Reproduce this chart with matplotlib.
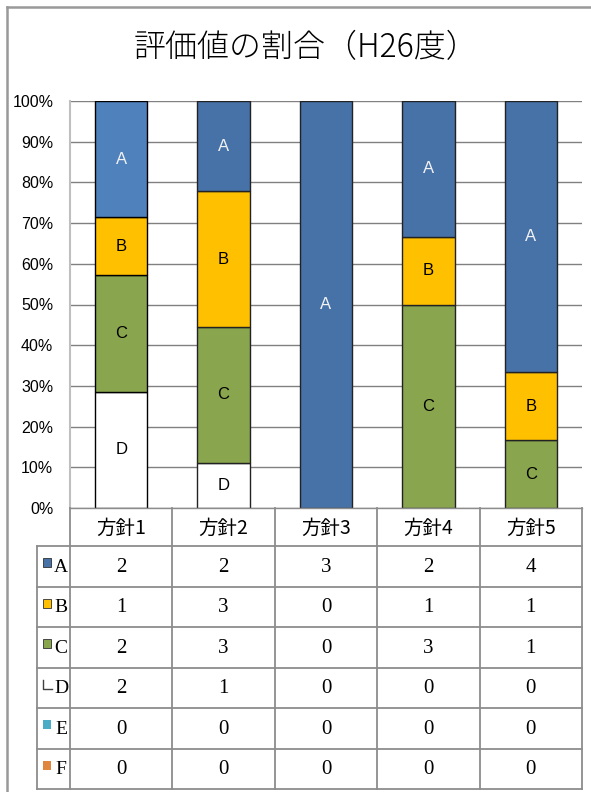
import matplotlib
matplotlib.use("Agg")
import matplotlib.pyplot as plt
from matplotlib.patches import Rectangle
from matplotlib.lines import Line2D
import numpy as np

plt.rcParams['font.family'] = ['Noto Sans CJK JP', 'DejaVu Sans']

# data
policies = ["方針1", "方針2", "方針3", "方針4", "方針5"]
grades = ["A", "B", "C", "D", "E", "F"]
count_a = [2, 2, 3, 2, 4]
count_b = [1, 3, 0, 1, 1]
count_c = [2, 3, 0, 3, 1]
count_d = [2, 1, 0, 0, 0]
count_e = [0, 0, 0, 0, 0]
count_f = [0, 0, 0, 0, 0]
yticks = [0, 10, 20, 30, 40, 50, 60, 70, 80, 90, 100]

colors = {"A": "#4672A8", "B": "#FFC000", "C": "#89A54E", "D": "#FFFFFF",
          "E": "#4BACC6", "F": "#E0873F"}
label_colors = {"A": "#F2F2F2", "B": "black", "C": "black", "D": "black"}

W, H = 591, 792
fig = plt.figure(figsize=(W / 100, H / 100), dpi=100)


def fx(px):
    return px / W


def fy(py):
    return 1 - py / H


# outer frame
fig.add_artist(Line2D([fx(7), fx(7)], [fy(7), fy(791)], color="#999999", lw=1.8))
fig.add_artist(Line2D([fx(7), fx(591)], [fy(7), fy(7)], color="#999999", lw=1.8))

fig.text(fx(306), fy(48), "評価値の割合（H26度）", ha="center", va="center",
         fontsize=23, fontweight="light")

# chart area
left, right, top, bottom = 70, 582, 101, 508
ax = fig.add_axes([fx(left), fy(bottom), fx(right) - fx(left), fy(top) - fy(bottom)])
counts = {"A": count_a, "B": count_b, "C": count_c, "D": count_d, "E": count_e, "F": count_f}
totals = np.sum([counts[g] for g in grades], axis=0)
x = np.arange(len(policies))
base = np.zeros(len(policies))
for g in ["D", "C", "B", "A"]:
    pct = np.array(counts[g]) / totals * 100
    fc = [colors[g]] * len(policies)
    if g == "A":
        fc[0] = "#4F81BD"
    ec = ["black"] + ["#222222"] * (len(policies) - 1)
    bars = ax.bar(x, pct, bottom=base, width=0.51, color=fc, edgecolor=ec,
                  linewidth=1.0, zorder=3)
    for i, b in enumerate(bars):
        if pct[i] > 0:
            ax.text(x[i], base[i] + pct[i] / 2, g, ha="center", va="center",
                    fontsize=12, color=label_colors[g], zorder=4,
                    family="Liberation Sans")
    base += pct

ax.set_xlim(-0.5, len(policies) - 0.5)
ax.set_ylim(0, 100)
ax.set_yticks(yticks)
ax.set_yticklabels([f"{t}%" for t in yticks], fontsize=11.5, family="Liberation Sans")
ax.tick_params(axis="y", length=0, pad=12)
ax.set_xticks([])
ax.grid(axis="y", color="#808080", lw=1.0, zorder=0)
for s in ["top", "right", "bottom"]:
    ax.spines[s].set_visible(False)
ax.spines["left"].set_color("#BFBFBF")
ax.spines["left"].set_linewidth(1.5)

# data table below the chart
tab = fig.add_axes([0, 0, 1, 1], facecolor="none")
tab.set_xlim(0, W)
tab.set_ylim(H, 0)
tab.axis("off")
col_edges = np.linspace(left, right, len(policies) + 1)
header_top, header_bot = bottom, 546
row_edges = np.linspace(header_bot, 789, len(grades) + 1)
label_left = 37
lc = "#8C8C8C"

tab.plot([left, right], [header_top, header_top], color=lc, lw=1.0)
for xe in col_edges:
    tab.plot([xe, xe], [header_top, row_edges[-1]], color=lc, lw=1.3)
tab.plot([label_left, label_left], [header_bot, row_edges[-1]], color=lc, lw=1.3)
for ye in row_edges:
    tab.plot([label_left, right], [ye, ye], color=lc, lw=1.3)

for j, p in enumerate(policies):
    tab.text((col_edges[j] + col_edges[j + 1]) / 2, (header_top + header_bot) / 2 + 1, p,
             ha="center", va="center", fontsize=14)

for r, g in enumerate(grades):
    yc = (row_edges[r] + row_edges[r + 1]) / 2
    ytop = row_edges[r] + 12
    if g == "D":
        tab.plot([43, 43, 52], [ytop, ytop + 9, ytop + 9], color="#404040", lw=1.0)
    else:
        tab.add_patch(Rectangle((43, ytop), 8, 9, facecolor=colors[g],
                                edgecolor="#303030" if g in "ABC" else "none", lw=0.6))
    tab.text(61, yc + 1, g, ha="center", va="center", fontsize=14,
             family="Liberation Serif")
    for j in range(len(policies)):
        tab.text((col_edges[j] + col_edges[j + 1]) / 2, yc + 1, str(counts[g][j]),
                 ha="center", va="center", fontsize=15, family="Liberation Serif")

fig.savefig("out.png", dpi=100)
